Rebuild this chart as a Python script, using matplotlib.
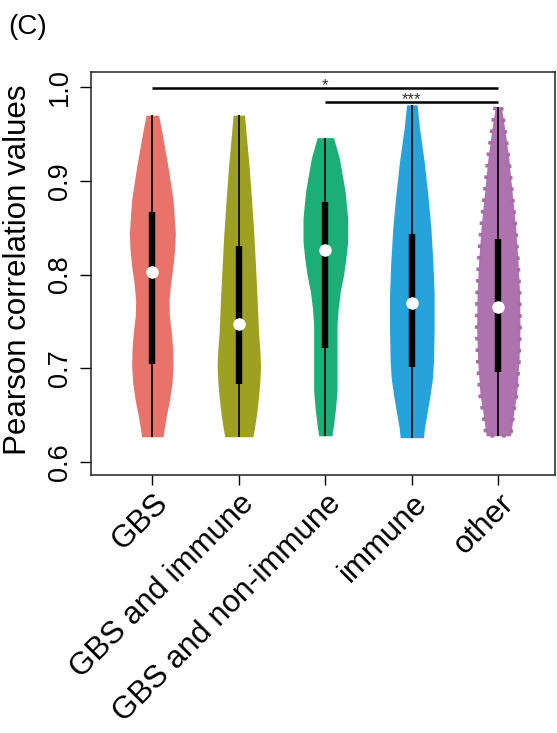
import numpy as np
import matplotlib
matplotlib.use("Agg")
import matplotlib.pyplot as plt
from matplotlib.transforms import ScaledTranslation

plt.rcParams['font.family'] = ['Liberation Sans', 'DejaVu Sans']

categories = ["GBS", "GBS and immune", "GBS and non-immune", "immune", "other"]
colors = ["#E8736A", "#9EA022", "#1BAF77", "#27A3DC", "#AD73AE"]

# violin outlines: value levels and half-widths (x data units)
gbs_y = [0.970, 0.951, 0.915, 0.880, 0.844, 0.827, 0.809, 0.791, 0.773, 0.756,
         0.738, 0.720, 0.703, 0.685, 0.667, 0.649, 0.632, 0.627]
gbs_w = [0.073, 0.112, 0.181, 0.239, 0.266, 0.258, 0.239, 0.212, 0.193, 0.197,
         0.220, 0.235, 0.239, 0.228, 0.200, 0.162, 0.131, 0.124]
gbsimm_y = [0.970, 0.951, 0.915, 0.880, 0.844, 0.809, 0.773, 0.738, 0.720, 0.703,
            0.685, 0.667, 0.649, 0.632, 0.627]
gbsimm_w = [0.066, 0.084, 0.119, 0.147, 0.173, 0.193, 0.212, 0.228, 0.243, 0.251,
            0.243, 0.225, 0.202, 0.173, 0.162]
gbsnon_y = [0.946, 0.924, 0.889, 0.860, 0.835, 0.818, 0.800, 0.782, 0.765, 0.747,
            0.711, 0.676, 0.658, 0.640, 0.628]
gbsnon_w = [0.095, 0.162, 0.228, 0.258, 0.258, 0.239, 0.212, 0.173, 0.150, 0.135,
            0.135, 0.135, 0.119, 0.096, 0.077]
imm_y = [0.981, 0.956, 0.921, 0.885, 0.850, 0.814, 0.779, 0.743, 0.708, 0.690,
         0.672, 0.655, 0.637, 0.626]
imm_w = [0.061, 0.089, 0.142, 0.185, 0.220, 0.243, 0.258, 0.258, 0.251, 0.239,
         0.212, 0.181, 0.147, 0.135]
oth_y = [0.979, 0.956, 0.921, 0.885, 0.850, 0.814, 0.779, 0.743, 0.708, 0.672,
         0.655, 0.637, 0.628]
oth_w = [0.035, 0.073, 0.124, 0.162, 0.200, 0.228, 0.246, 0.251, 0.239, 0.212,
         0.181, 0.154, 0.142]

violin_y = [gbs_y, gbsimm_y, gbsnon_y, imm_y, oth_y]
violin_w = [gbs_w, gbsimm_w, gbsnon_w, imm_w, oth_w]

# box statistics
mins = [0.627, 0.627, 0.628, 0.626, 0.628]
maxs = [0.970, 0.970, 0.946, 0.981, 0.979]
q1 = [0.705, 0.683, 0.722, 0.701, 0.696]
q3 = [0.867, 0.830, 0.877, 0.843, 0.838]
medians = [0.803, 0.747, 0.826, 0.770, 0.765]

# significance brackets
sig_from = [1, 3]
sig_to = [5, 5]
sig_y = [0.999, 0.984]
sig_text = ["*", "***"]

yticks = [0.6, 0.7, 0.8, 0.9, 1.0]
ytick_labels = ["0.6", "0.7", "0.8", "0.9", "1.0"]

W, H = 557, 733
fig = plt.figure(figsize=(W / 100, H / 100), dpi=100)
ax = fig.add_axes([91 / W, 1 - 475 / H, (555 - 91) / W, (475 - 72) / H])

pos = np.arange(1, len(categories) + 1)
for i, p in enumerate(pos):
    y = np.array(violin_y[i])
    w = np.array(violin_w[i])
    ax.fill_betweenx(y, p - w, p + w, color=colors[i], linewidth=0, zorder=2)
    if categories[i] == "other":
        xs = np.concatenate([p - w, (p + w)[::-1], [p - w[0]]])
        ys = np.concatenate([y, y[::-1], [y[0]]])
        ax.plot(xs, ys, color="#A86CA9", lw=2.6, linestyle=(0, (1, 2.2)),
                solid_capstyle='butt', dash_capstyle='butt', zorder=2)
    ax.vlines(p, mins[i], maxs[i], color="black", lw=1.2, zorder=3)
    ax.vlines(p, q1[i], q3[i], color="black", lw=4.6, zorder=3)
    ax.plot(p, medians[i], 'o', color="white", ms=9, mew=0, zorder=4)

for a, b, yy, t in zip(sig_from, sig_to, sig_y, sig_text):
    ax.plot([a, b], [yy, yy], color="black", lw=1.8, zorder=3, solid_capstyle='butt')
    ax.text((a + b) / 2, yy - 0.002, t, ha='center', va='baseline', fontsize=12,
            color="#333333")

ax.set_xlim(0.291, 5.655)
ax.set_ylim(0.5862, 1.016)
ax.set_yticks(yticks)
ax.set_yticklabels(ytick_labels)
ax.set_xticks(pos)
ax.set_xticklabels(categories)

for s in ax.spines.values():
    s.set_linewidth(1.1)
    s.set_color("#222222")

ax.tick_params(axis='y', direction='out', length=8, width=1.0, labelsize=19.5, pad=5)
ax.tick_params(axis='x', direction='out', length=7.5, width=1.0, labelsize=22.5, pad=4)
for lbl in ax.get_yticklabels():
    lbl.set_rotation(90)
    lbl.set_va('center')
for lbl in ax.get_xticklabels():
    lbl.set_rotation(45)
    lbl.set_ha('right')
    lbl.set_va('center')
    lbl.set_rotation_mode('anchor')
    lbl.set_transform(lbl.get_transform() + ScaledTranslation(0.11, -0.08, fig.dpi_scale_trans))

fig.text(18 / W, 1 - 270 / H, "Pearson correlation values", fontsize=22.5,
         rotation=90, ha='center', va='center')
fig.text(8 / W, 1 - 27 / H, "(C)", fontsize=20, ha='left', va='center')

fig.savefig("out.png", dpi=100)
